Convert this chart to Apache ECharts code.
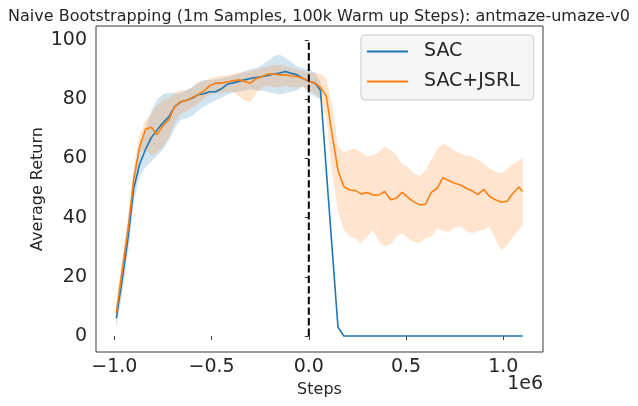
<!DOCTYPE html>
<html><head><meta charset="utf-8">
<script src="https://cdn.jsdelivr.net/npm/echarts@6/dist/echarts.min.js"></script>
<style>html,body{margin:0;padding:0;background:#fff}#c{width:638px;height:406px}</style>
</head><body><div id="c"></div>
<script>
// x in units of 1e6 steps
const steps = [-0.99,-0.96,-0.93,-0.90,-0.87,-0.84,-0.81,-0.78,-0.75,-0.72,-0.69,-0.66,-0.63,-0.60,-0.57,-0.54,-0.51,-0.48,-0.45,-0.42,-0.39,-0.36,-0.33,-0.30,-0.27,-0.24,-0.21,-0.18,-0.15,-0.12,-0.09,-0.06,-0.03,0.00,0.03,0.06,0.09,0.12,0.15,0.18,0.21,0.24,0.27,0.30,0.33,0.36,0.39,0.42,0.45,0.48,0.51,0.54,0.57,0.60,0.63,0.66,0.69,0.72,0.75,0.78,0.81,0.84,0.87,0.90,0.93,0.96,0.99,1.02,1.05,1.08,1.10];

const sacMean = [6,19,33,50,58,63,67,69.6,72,74,77.5,79,79.6,80.3,81.5,81.8,82.5,82.5,83.5,85,85.5,86,86.5,87,87.3,87.6,88,88.5,88.8,89.3,88.7,88.2,87,86,85.5,83,56,29.5,3,0,0,0,0,0,0,0,0,0,0,0,0,0,0,0,0,0,0,0,0,0,0,0,0,0,0,0,0,0,0,0,0];
const sacLow = [3,14,28,45,54,57,59,61,63,66,70,73,73.5,74.3,76,77.5,78.5,79.5,80.5,81.5,82.2,82.5,83,83.3,83,82.8,82.5,82,81.6,82,82.5,83,84.5,82,81,80,56,29.5,3,0,0,0,0,0,0,0,0,0,0,0,0,0,0,0,0,0,0,0,0,0,0,0,0,0,0,0,0,0,0,0,0];
const sacHigh = [10,24,38,55,64,70,76,80,81.6,82.2,82,82,83,84,85.5,86.5,86.5,86.7,87,87.5,88,88.5,89.5,90,90.5,91.5,93,94.5,95,94,92.5,91,90.5,90,89,86,56,29.5,3,0,0,0,0,0,0,0,0,0,0,0,0,0,0,0,0,0,0,0,0,0,0,0,0,0,0,0,0,0,0,0,0];

const jsrlMean = [7.7,22,36,53,64,69.8,70.5,68,71,73,77.5,79.2,79.5,80.5,81.5,82.8,84.5,85.4,85.4,85.8,86.2,86.5,86,85.4,87,87.6,88.5,88.5,88.2,88.2,87.8,87.6,87,86,85.5,84,81,68,56,50.5,49.3,49.1,48,48.5,47.6,47.6,48.8,46,46.5,48.5,46.8,45.3,44.3,44.5,48.5,49.9,53.5,52.5,51.6,51,49.9,49,47.8,49.5,47.1,46,45.2,45.5,48.2,50.3,48.8];
const jsrlLow = [4,17,32,49,62,63,61,62,64,67,72,75,76,77,78.5,80,81.5,82,82,82.5,82.5,81,79.5,79,82,84,84.5,84,84,84.5,84,84,84,83,82,80,74,55,42,36,33.5,33,31.3,33.5,35.8,32,30.2,31,33.5,34.7,33,31.9,31.3,33,33.5,36.4,35.5,35.2,36.5,36.9,35.5,34.7,35.5,35.8,36.9,32.4,29,30.7,33.5,35.8,37.5];
const jsrlHigh = [11,26,40,57,68,73,75,78,79.5,80.5,82,83,83,84,85.5,86,87,87.5,88,88,88.5,89,89,89.5,90,90.5,91,91.5,91.5,91,90.5,90,89.5,89,89,88.5,87,78,64,62,62.8,63.4,61.7,60.6,61.1,62,64,62.8,61.1,58,57,55,54,56,59.5,63,65,64,62.5,61.7,61,60.6,59.5,58.3,56.5,55.5,55,56.5,58,59.3,60];

const xTicks = [-1.0,-0.5,0.0,0.5,1.0];
const yTicks = [0,20,40,60,80,100];
const warmupX = [0,0];
const warmupY = [0,100];

const FONT = 'DejaVu Sans';
const TXT = '#262626';

function band(name, lo, hi, color) {
  return {
    type: 'custom', name: name, silent: true, z: 1,
    data: steps.map((x, i) => [x, lo[i], hi[i]]),
    encode: { x: 0, y: [1, 2] },
    renderItem: function (params, api) {
      if (params.dataIndex !== 0) return null;
      const pts = [];
      for (let i = 0; i < steps.length; i++) pts.push(api.coord([steps[i], hi[i]]));
      for (let i = steps.length - 1; i >= 0; i--) pts.push(api.coord([steps[i], lo[i]]));
      return { type: 'polygon', shape: { points: pts }, style: { fill: color } };
    }
  };
}

const chart = echarts.init(document.getElementById('c'), null, { renderer: 'canvas' });
chart.setOption({
  animation: false,
  backgroundColor: '#fff',
  title: {
    text: 'Naive Bootstrapping (1m Samples, 100k Warm up Steps): antmaze-umaze-v0',
    left: 'center', top: 4,
    textStyle: { fontFamily: FONT, fontSize: 16, fontWeight: 'normal', color: TXT }
  },
  grid: { left: 96, right: 95, top: 26, bottom: 54, show: true, borderColor: '#3a3a3a', borderWidth: 1, backgroundColor: 'transparent' },
  legend: {
    data: ['SAC', 'SAC+JSRL'],
    orient: 'vertical', left: 361, top: 35,
    backgroundColor: 'rgba(245,245,245,0.9)', borderColor: '#cccccc', borderWidth: 1, borderRadius: 4,
    padding: [7, 14, 9, 6],
    itemWidth: 41, itemHeight: 2, itemGap: 11, icon: 'rect',
    textStyle: { fontFamily: FONT, fontSize: 19, color: TXT, padding: [0, 0, 0, 11] }
  },
  xAxis: {
    type: 'value', min: -1.0945, max: 1.2045,
    axisLine: { show: false },
    splitLine: { show: false },
    axisTick: { show: true, customValues: xTicks, length: 4, lineStyle: { color: '#3a3a3a' } },
    axisLabel: {
      customValues: xTicks, margin: 6, fontFamily: FONT, fontSize: 19, color: TXT,
      formatter: v => v.toFixed(1).replace('-', '\u2212')
    },
    name: 'Steps', nameLocation: 'middle', nameGap: 30, nameMoveOverlap: false,
    nameTextStyle: { fontFamily: FONT, fontSize: 16, color: TXT }
  },
  yAxis: {
    type: 'value', min: -5.4, max: 104.7,
    axisLine: { show: false },
    splitLine: { show: false },
    axisTick: { show: true, customValues: yTicks, length: 4, lineStyle: { color: '#3a3a3a' } },
    axisLabel: { customValues: yTicks, margin: 9, fontFamily: FONT, fontSize: 19, color: TXT },
    name: 'Average Return', nameLocation: 'middle', nameGap: 50, nameMoveOverlap: false,
    nameTextStyle: { fontFamily: FONT, fontSize: 16, color: TXT }
  },
  graphic: [{
    type: 'text', right: 95, top: 375,
    style: { text: '1e6', fontFamily: FONT, fontSize: 19, fill: TXT }
  }],
  series: [
    band('SAC band', sacLow, sacHigh, 'rgba(31,119,180,0.2)'),
    band('SAC+JSRL band', jsrlLow, jsrlHigh, 'rgba(255,127,14,0.2)'),
    {
      type: 'line', name: 'SAC', z: 3, showSymbol: false, symbol: 'none',
      color: '#1f77b4', lineStyle: { color: '#1f77b4', width: 1.6 },
      data: steps.map((x, i) => [x, sacMean[i]])
    },
    {
      type: 'line', name: 'SAC+JSRL', z: 4, showSymbol: false, symbol: 'none',
      color: '#ff7f0e', lineStyle: { color: '#ff7f0e', width: 1.6 },
      data: steps.map((x, i) => [x, jsrlMean[i]])
    },
    {
      type: 'line', name: 'warmup', z: 5, showSymbol: false, symbol: 'none', silent: true,
      lineStyle: { color: '#000', width: 2, type: [7.4, 3.2] },
      data: warmupX.map((x, i) => [x, warmupY[i]])
    }
  ]
});
</script>
</body></html>
